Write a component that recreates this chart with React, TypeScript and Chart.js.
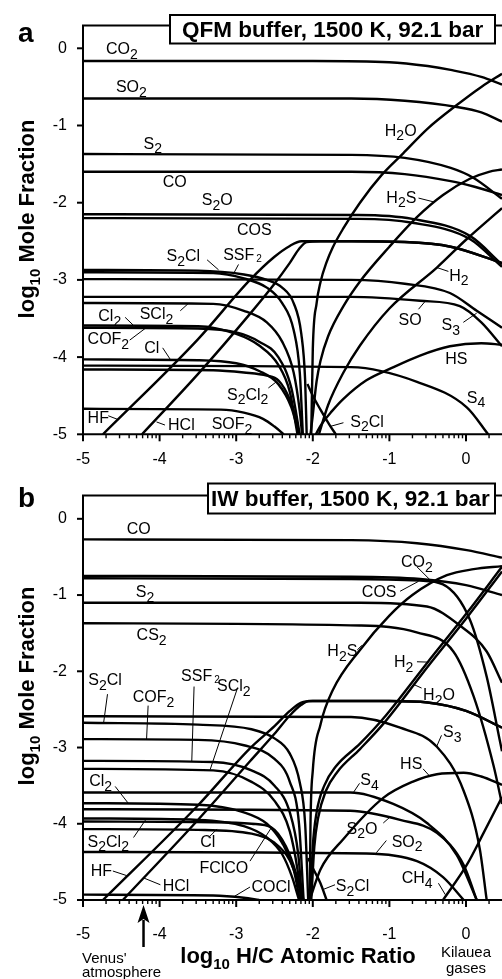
import React, { useEffect, useRef } from 'react';
import { Chart, registerables } from 'chart.js';

Chart.register(...registerables);

type P = [number, number];
type Lbl = { t: string; x: number; y: number; l?: [number, number, number, number]; small?: boolean };

const FONT = '"Liberation Sans", Arial, Helvetica, sans-serif';

// ---------- axes ----------
const X_TICKS = [-5, -4, -3, -2, -1, 0];
const X_TICK_LABELS = ['-5', '-4', '-3', '-2', '-1', '0'];
const Y_TICKS = [-5, -4, -3, -2, -1, 0];
const Y_TICK_LABELS = ['-5', '-4', '-3', '-2', '-1', '0'];
const MINOR_MULT = [2, 3, 4, 5, 6, 7, 8, 9];
const X_MIN = -5;
const X_MAX = 0.47;
const Y_MIN = -5;

// ---------- panel a : QFM buffer ----------
const A_CO2: P[] = [[-5, -0.165], [-2, -0.165], [-1, -0.18], [-0.5, -0.23], [-0.2, -0.28], [0.2, -0.37], [0.47, -0.47]];
const A_SO2: P[] = [[-5, -0.65], [-1.5, -0.65], [-0.8, -0.68], [-0.12, -0.76], [0.2, -0.83], [0.47, -0.95]];
const A_S2: P[] = [[-5, -1.37], [-1.5, -1.38], [-0.8, -1.42], [-0.2, -1.55], [0.1, -1.68], [0.47, -1.95]];
const A_CO: P[] = [[-5, -1.6], [-1.5, -1.6], [-0.8, -1.63], [-0.2, -1.72], [0.1, -1.79], [0.47, -1.9]];
const A_S2O: P[] = [[-5, -2.15], [-1.4, -2.16], [-0.7, -2.21], [0.05, -2.43], [0.47, -2.8]];
const A_COS: P[] = [[-5, -2.2], [-1.4, -2.21], [-0.7, -2.26], [0.05, -2.47], [0.47, -2.83]];
const A_HF: P[] = [[-4.74, -5], [-3.5, -3.77], [-2.82, -3.0], [-2.5, -2.7], [-2.3, -2.56], [-2.15, -2.5], [-1.5, -2.5], [-0.8, -2.51], [-0.2, -2.57], [0.47, -2.78]];
const A_HCl: P[] = [[-4.23, -5], [-3.5, -4.22], [-2.82, -3.44], [-2.5, -3.05], [-2.3, -2.78], [-2.18, -2.6], [-2.08, -2.51], [-1.9, -2.5], [-1.5, -2.5], [-0.8, -2.51], [-0.2, -2.57], [0.47, -2.78]];
const A_S2Cl: P[] = [[-5, -2.87], [-3.5, -2.88], [-2.9, -2.93], [-2.6, -3.0], [-2.4, -3.1], [-2.25, -3.3], [-2.15, -3.7], [-2.1, -4.3], [-2.08, -5]];
const A_SSF2: P[] = [[-5, -2.9], [-3.3, -2.91], [-2.9, -2.98], [-2.6, -3.1], [-2.4, -3.3], [-2.25, -3.65], [-2.17, -4.2], [-2.13, -5]];
const A_S3: P[] = [[-5, -2.99], [-1.5, -3.0], [-0.8, -3.05], [-0.21, -3.17], [0.14, -3.4], [0.47, -3.62]];
const A_SO: P[] = [[-5, -3.22], [-1.5, -3.22], [-0.6, -3.27], [-0.08, -3.34], [0.2, -3.55], [0.47, -3.86]];
const A_SCl2: P[] = [[-5, -3.3], [-3.3, -3.31], [-2.9, -3.4], [-2.6, -3.55], [-2.4, -3.8], [-2.25, -4.2], [-2.17, -4.7], [-2.14, -5]];
const A_Cl2: P[] = [[-5, -3.59], [-3.5, -3.6], [-3.0, -3.7], [-2.7, -3.85], [-2.45, -4.1], [-2.3, -4.45], [-2.2, -5]];
const A_COF2: P[] = [[-5, -3.62], [-3.5, -3.63], [-3.0, -3.68], [-2.7, -3.8], [-2.45, -4.0], [-2.28, -4.4], [-2.17, -5]];
const A_Cl: P[] = [[-5, -4.03], [-3.5, -4.04], [-3.0, -4.08], [-2.7, -4.18], [-2.45, -4.35], [-2.28, -4.65], [-2.18, -5]];
const A_S4: P[] = [[-5, -4.11], [-1.5, -4.13], [-0.64, -4.32], [0.01, -4.65], [0.29, -5]];
const A_S2Cl2: P[] = [[-5, -4.16], [-3.3, -4.17], [-2.9, -4.2], [-2.6, -4.24], [-2.45, -4.3], [-2.3, -4.55], [-2.22, -4.8], [-2.18, -5]];
const A_SOF2: P[] = [[-5, -4.67], [-3.2, -4.68], [-2.9, -4.72], [-2.65, -4.8], [-2.5, -4.9], [-2.38, -5]];
const A_H2O: P[] = [[-2.02, -5], [-2.0, -3.9], [-1.95, -3.3], [-1.9, -3.03], [-1.82, -2.77], [-1.74, -2.58], [-1.6, -2.33], [-1.384, -2.0], [-1.1, -1.64], [-0.82, -1.36], [-0.5, -1.04], [-0.12, -0.735], [0.2, -0.5], [0.47, -0.33]];
const A_H2S: P[] = [[-2.03, -5], [-2.0, -4.75], [-1.95, -4.31], [-1.9, -4.05], [-1.8, -3.73], [-1.6, -3.34], [-1.384, -3.02], [-1.0, -2.57], [-0.644, -2.19], [-0.3, -1.9], [0.05, -1.69], [0.3, -1.6], [0.47, -1.57]];
const A_H2: P[] = [[-1.92, -5], [-1.8, -4.62], [-1.6, -4.2], [-1.384, -3.85], [-1, -3.37], [-0.38, -2.84], [0, -2.48], [0.47, -2.07]];
const A_HS: P[] = [[-1.96, -5], [-1.9, -4.89], [-1.75, -4.7], [-1.6, -4.54], [-1.3, -4.3], [-0.99, -4.15], [-0.6, -3.98], [-0.21, -3.86], [0.2, -3.82], [0.47, -3.84]];
const A_S2Cl_HI: P[] = [[-2.07, -4.35], [-2.0, -4.5], [-1.9, -4.68], [-1.78, -4.88], [-1.7, -5]];

const A_SERIES: [string, P[]][] = [
  ['CO2', A_CO2], ['SO2', A_SO2], ['S2', A_S2], ['CO', A_CO], ['S2O', A_S2O], ['COS', A_COS],
  ['HF', A_HF], ['HCl', A_HCl], ['S2Cl', A_S2Cl], ['SSF2', A_SSF2], ['S3', A_S3], ['SO', A_SO],
  ['SCl2', A_SCl2], ['Cl2', A_Cl2], ['COF2', A_COF2], ['Cl', A_Cl], ['S4', A_S4], ['S2Cl2', A_S2Cl2],
  ['SOF2', A_SOF2], ['H2O', A_H2O], ['H2S', A_H2S], ['H2', A_H2], ['HS', A_HS], ['S2Cl (high H)', A_S2Cl_HI],
];

const A_LABELS: Lbl[] = [
  { t: 'CO2', x: -4.7, y: -0.077 },
  { t: 'SO2', x: -4.57, y: -0.57 },
  { t: 'S2', x: -4.21, y: -1.3 },
  { t: 'CO', x: -3.96, y: -1.8 },
  { t: 'S2O', x: -3.45, y: -2.03 },
  { t: 'COS', x: -2.99, y: -2.42 },
  { t: 'H2O', x: -1.06, y: -1.13 },
  { t: 'H2S', x: -1.04, y: -2.0, l: [-0.62, -1.94, -0.42, -1.99] },
  { t: 'S2Cl', x: -3.91, y: -2.76, l: [-3.38, -2.74, -3.23, -2.87] },
  { t: 'SSF2', x: -3.17, y: -2.74, l: [-2.97, -2.8, -3.04, -2.93], small: true },
  { t: 'Cl2', x: -4.8, y: -3.53, l: [-4.45, -3.485, -4.34, -3.59] },
  { t: 'SCl2', x: -4.26, y: -3.51, l: [-3.73, -3.4, -3.63, -3.31] },
  { t: 'COF2', x: -4.94, y: -3.83, l: [-4.39, -3.78, -4.19, -3.63] },
  { t: 'Cl', x: -4.2, y: -3.95, l: [-3.96, -3.88, -3.86, -4.03] },
  { t: 'S2Cl2', x: -3.12, y: -4.55, l: [-2.58, -4.4, -2.45, -4.3] },
  { t: 'HF', x: -4.94, y: -4.86, l: [-4.67, -4.76, -4.54, -4.81] },
  { t: 'HCl', x: -3.89, y: -4.94, l: [-3.93, -4.88, -4.04, -4.84] },
  { t: 'SOF2', x: -3.32, y: -4.93 },
  { t: 'S2Cl', x: -1.51, y: -4.9, l: [-1.6, -4.85, -1.78, -4.9] },
  { t: 'H2', x: -0.22, y: -3.01, l: [-0.23, -2.89, -0.38, -2.84] },
  { t: 'SO', x: -0.88, y: -3.59, l: [-0.62, -3.38, -0.535, -3.28] },
  { t: 'S3', x: -0.32, y: -3.65, l: [-0.035, -3.55, 0.14, -3.43] },
  { t: 'HS', x: -0.27, y: -4.09 },
  { t: 'S4', x: 0.01, y: -4.59 },
];

// ---------- panel b : IW buffer ----------
const B_CO: P[] = [[-5, -0.27], [-1.5, -0.28], [-0.64, -0.32], [0.01, -0.41], [0.47, -0.51]];
const B_CO2: P[] = [[-5, -0.75], [-1.5, -0.76], [-0.6, -0.79], [0, -0.87], [0.47, -1.0]];
const B_COS: P[] = [[-5, -0.78], [-1.5, -0.79], [-0.6, -0.81], [-0.3, -0.86], [0.05, -1.32], [0.27, -2.07], [0.44, -2.9], [0.47, -3.05]];
const B_S2: P[] = [[-5, -1.1], [-1.384, -1.1], [-0.51, -1.15], [-0.08, -1.4], [0.27, -1.74], [0.47, -2.15]];
const B_CS2: P[] = [[-5, -1.37], [-1.384, -1.4], [-0.644, -1.49], [-0.165, -1.74], [0.1, -2.33], [0.36, -3.24], [0.47, -3.74]];
const B_S3: P[] = [[-5, -2.59], [-1.5, -2.6], [-0.86, -2.74], [-0.38, -2.99], [-0.03, -3.57], [0.18, -4.33], [0.27, -5]];
const B_S2Cl: P[] = [[-5, -2.675], [-3.5, -2.7], [-2.8, -2.76], [-2.5, -2.88], [-2.3, -3.08], [-2.17, -3.46], [-2.1, -4.0], [-2.06, -5]];
const B_COF2: P[] = [[-5, -2.89], [-3.5, -2.9], [-2.9, -2.97], [-2.5, -3.15], [-2.3, -3.45], [-2.18, -4.0], [-2.12, -5]];
const B_SSF2: P[] = [[-5, -3.175], [-3.3, -3.19], [-2.8, -3.3], [-2.5, -3.5], [-2.3, -3.85], [-2.19, -4.4], [-2.14, -5]];
const B_SCl2: P[] = [[-5, -3.28], [-3.3, -3.3], [-2.8, -3.45], [-2.5, -3.7], [-2.3, -4.1], [-2.2, -4.6], [-2.15, -5]];
const B_S4: P[] = [[-5, -3.59], [-1.51, -3.59], [-0.95, -3.74], [-0.51, -3.99], [-0.12, -4.41], [0.14, -5]];
const B_Cl2: P[] = [[-5, -3.73], [-3.5, -3.75], [-2.9, -3.85], [-2.6, -4.0], [-2.4, -4.25], [-2.25, -4.6], [-2.17, -5]];
const B_S2O: P[] = [[-5, -3.81], [-1.51, -3.83], [-0.86, -3.95], [-0.38, -4.12], [-0.03, -4.54], [0.14, -5]];
const B_S2Cl2: P[] = [[-5, -3.93], [-3.5, -3.95], [-2.9, -4.03], [-2.6, -4.18], [-2.4, -4.4], [-2.27, -4.7], [-2.18, -5]];
const B_FClCO: P[] = [[-5, -3.97], [-3.3, -3.98], [-2.8, -4.0], [-2.54, -4.05], [-2.35, -4.3], [-2.22, -4.65], [-2.14, -5]];
const B_Cl: P[] = [[-5, -4.07], [-3.5, -4.08], [-2.8, -4.13], [-2.5, -4.25], [-2.3, -4.48], [-2.18, -4.8], [-2.12, -5]];
const B_SO2: P[] = [[-5, -4.37], [-1.3, -4.39], [-0.64, -4.49], [-0.3, -4.7], [-0.03, -5]];
const B_COCl: P[] = [[-5, -4.93], [-3.3, -4.94], [-2.9, -4.97], [-2.7, -5]];
const B_HF: P[] = [[-4.74, -5], [-3.5, -3.76], [-2.82, -3.01], [-2.5, -2.72], [-2.3, -2.52], [-2.15, -2.41], [-2.0, -2.39], [-1, -2.39], [-0.5, -2.41], [0, -2.52], [0.47, -2.74]];
const B_HCl: P[] = [[-4.48, -5], [-3.5, -3.95], [-2.82, -3.18], [-2.5, -2.82], [-2.3, -2.58], [-2.15, -2.44], [-2.05, -2.39], [-1, -2.39], [-0.5, -2.41], [0, -2.52], [0.47, -2.74]];
const B_H2: P[] = [[-2.03, -5], [-2.0, -4.3], [-1.95, -3.85], [-1.85, -3.5], [-1.7, -3.25], [-1.384, -2.95], [-1.08, -2.62], [-0.5, -1.88], [0, -1.25], [0.47, -0.63]];
const B_H2O: P[] = [[-2.02, -5], [-1.98, -4.3], [-1.93, -3.92], [-1.83, -3.57], [-1.68, -3.32], [-1.384, -3.02], [-1.08, -2.69], [-0.5, -1.94], [0, -1.31], [0.47, -0.69]];
const B_H2S: P[] = [[-2.04, -5], [-2.03, -4.0], [-2.0, -3.3], [-1.9, -2.7], [-1.74, -2.25], [-1.384, -1.72], [-1.0, -1.27], [-0.7, -1.0], [-0.25, -0.74], [0.1, -0.66], [0.47, -0.62]];
const B_HS: P[] = [[-2.04, -5], [-1.9, -4.6], [-1.6, -4.2], [-1.08, -3.66], [-0.7, -3.45], [-0.38, -3.35], [-0.03, -3.33], [0.2, -3.38], [0.47, -3.49]];
const B_CH4: P[] = [[-0.3, -5], [0.01, -4.54], [0.23, -4.12], [0.47, -3.65]];
const B_S2Cl_HI: P[] = [[-2.06, -4.45], [-2.0, -4.58], [-1.9, -4.78], [-1.82, -5]];

const B_SERIES: [string, P[]][] = [
  ['CO', B_CO], ['CO2', B_CO2], ['COS', B_COS], ['S2', B_S2], ['CS2', B_CS2], ['S3', B_S3],
  ['S2Cl', B_S2Cl], ['COF2', B_COF2], ['SSF2', B_SSF2], ['SCl2', B_SCl2], ['S4', B_S4], ['Cl2', B_Cl2],
  ['S2O', B_S2O], ['S2Cl2', B_S2Cl2], ['FClCO', B_FClCO], ['Cl', B_Cl], ['SO2', B_SO2], ['COCl', B_COCl],
  ['HF', B_HF], ['HCl', B_HCl], ['H2', B_H2], ['H2O', B_H2O], ['H2S', B_H2S], ['HS', B_HS], ['CH4', B_CH4],
  ['S2Cl (high H)', B_S2Cl_HI],
];

const B_LABELS: Lbl[] = [
  { t: 'CO', x: -4.43, y: -0.196 },
  { t: 'S2', x: -4.31, y: -1.03 },
  { t: 'CS2', x: -4.3, y: -1.59 },
  { t: 'CO2', x: -0.85, y: -0.63, l: [-0.64, -0.63, -0.47, -0.8] },
  { t: 'COS', x: -1.36, y: -1.03, l: [-0.86, -0.95, -0.62, -0.82] },
  { t: 'H2S', x: -1.81, y: -1.8, l: [-1.42, -1.72, -1.36, -1.66] },
  { t: 'H2', x: -0.94, y: -1.95, l: [-0.64, -1.875, -0.49, -1.88] },
  { t: 'H2O', x: -0.56, y: -2.38, l: [-0.58, -2.22, -0.69, -2.17] },
  { t: 'S2Cl', x: -4.93, y: -2.18, l: [-4.68, -2.3, -4.73, -2.67] },
  { t: 'COF2', x: -4.35, y: -2.4, l: [-4.15, -2.45, -4.17, -2.89] },
  { t: 'SSF2', x: -3.72, y: -2.13, l: [-3.55, -2.2, -3.58, -3.18], small: true },
  { t: 'SCl2', x: -3.25, y: -2.26, l: [-2.99, -2.24, -3.34, -3.29] },
  { t: 'Cl2', x: -4.92, y: -3.51, l: [-4.58, -3.51, -4.41, -3.73] },
  { t: 'S2Cl2', x: -4.94, y: -4.3, l: [-4.34, -4.18, -4.17, -3.93] },
  { t: 'Cl', x: -3.47, y: -4.3, l: [-3.36, -4.18, -3.25, -4.07] },
  { t: 'FClCO', x: -3.48, y: -4.65, l: [-2.82, -4.49, -2.54, -4.05] },
  { t: 'HF', x: -4.9, y: -4.68, l: [-4.61, -4.62, -4.43, -4.68] },
  { t: 'HCl', x: -3.96, y: -4.88, l: [-3.99, -4.8, -4.21, -4.71] },
  { t: 'COCl', x: -2.8, y: -4.9, l: [-2.82, -4.83, -3.02, -4.95] },
  { t: 'S2Cl', x: -1.7, y: -4.88, l: [-1.71, -4.8, -1.86, -4.86] },
  { t: 'S4', x: -1.38, y: -3.49, l: [-1.39, -3.47, -1.47, -3.59] },
  { t: 'S2O', x: -1.56, y: -4.13, l: [-1.08, -3.99, -0.99, -3.91] },
  { t: 'SO2', x: -0.97, y: -4.3, l: [-1.04, -4.22, -1.17, -4.38] },
  { t: 'CH4', x: -0.84, y: -4.78, l: [-0.36, -4.78, -0.27, -4.93] },
  { t: 'HS', x: -0.86, y: -3.28, l: [-0.56, -3.28, -0.47, -3.38] },
  { t: 'S3', x: -0.3, y: -2.86, l: [-0.32, -2.84, -0.38, -2.98] },
];

// ---------- panel layout (pixels) ----------
type Layout = {
  h: number; padTop: number; xAxisH: number; yMax: number; tickPadX: number;
  letter: string; letterY: number; box: [number, number, number, number];
  boxText: string; boxTextX: number; boxTextY: number; yTitleY: number; notes: boolean;
  series: [string, P[]][]; labels: Lbl[];
};

const PANEL_A: Layout = {
  h: 470, padTop: 11, xAxisH: 35.7, yMax: 0.294, tickPadX: 16,
  letter: 'a', letterY: 42, box: [170, 15, 495, 43.5],
  boxText: 'QFM buffer, 1500 K, 92.1 bar', boxTextX: 182, boxTextY: 37, yTitleY: 219, notes: false,
  series: A_SERIES, labels: A_LABELS,
};
const PANEL_B: Layout = {
  h: 509, padTop: 6.7, xAxisH: 79, yMax: 0.3045, tickPadX: 25,
  letter: 'b', letterY: 37, box: [208, 13.5, 495, 43.5],
  boxText: 'IW buffer, 1500 K, 92.1 bar', boxTextX: 211, boxTextY: 36, yTitleY: 216, notes: true,
  series: B_SERIES, labels: B_LABELS,
};

function chem(ctx: CanvasRenderingContext2D, text: string, x: number, y: number, size: number, small?: boolean) {
  const parts = text.match(/[0-9]+|[^0-9]+/g) || [];
  let cx = x;
  for (const p of parts) {
    const sub = /^[0-9]/.test(p);
    const subSize = small ? Math.round(size * 0.62) : Math.round(size * 0.85);
    ctx.font = `${sub ? subSize : size}px ${FONT}`;
    ctx.fillText(p, cx + (sub && small ? 2 : 0), sub ? y + size * (small ? 0.12 : 0.3) : y);
    cx += ctx.measureText(p).width + (sub && small ? 2 : 0);
  }
}

function segs(ctx: CanvasRenderingContext2D, items: [string, boolean][], x: number, y: number, size: number, bold: boolean) {
  const f = (sub: boolean) => `${bold ? 'bold ' : ''}${sub ? Math.round(size * 0.68) : size}px ${FONT}`;
  const widths = items.map(([s, sub]) => { ctx.font = f(sub); return ctx.measureText(s).width; });
  const total = widths.reduce((a, b) => a + b, 0);
  let cx = x - total / 2;
  items.forEach(([s, sub], i) => {
    ctx.font = f(sub);
    ctx.fillText(s, cx, sub ? y + size * 0.28 : y);
    cx += widths[i];
  });
}

function makeDecor(cfg: Layout) {
  return {
    id: 'decor',
    afterDatasetsDraw(chart: any) {
      const ctx: CanvasRenderingContext2D = chart.ctx;
      const xs = chart.scales.x;
      const ys = chart.scales.y;
      const { left, right, top, bottom } = chart.chartArea;
      ctx.save();
      ctx.fillStyle = '#000';
      ctx.strokeStyle = '#000';
      ctx.textAlign = 'left';
      ctx.textBaseline = 'alphabetic';
      // species labels + leaders
      for (const L of cfg.labels) {
        if (L.l) {
          ctx.lineWidth = 1;
          ctx.beginPath();
          ctx.moveTo(xs.getPixelForValue(L.l[0]), ys.getPixelForValue(L.l[1]));
          ctx.lineTo(xs.getPixelForValue(L.l[2]), ys.getPixelForValue(L.l[3]));
          ctx.stroke();
        }
        chem(ctx, L.t, xs.getPixelForValue(L.x), ys.getPixelForValue(L.y), 16, L.small);
      }
      // frame
      ctx.lineWidth = 2;
      ctx.beginPath();
      ctx.moveTo(right + 2, top);
      ctx.lineTo(left, top);
      ctx.lineTo(left, bottom);
      ctx.lineTo(right + 2, bottom);
      ctx.stroke();
      // y ticks
      for (const v of Y_TICKS) {
        const py = ys.getPixelForValue(v);
        ctx.beginPath();
        ctx.moveTo(left - 6, py);
        ctx.lineTo(left, py);
        ctx.stroke();
      }
      // x ticks (major + minor)
      for (const v of X_TICKS) {
        const px = xs.getPixelForValue(v);
        ctx.lineWidth = 2;
        ctx.beginPath();
        ctx.moveTo(px, bottom);
        ctx.lineTo(px, bottom + 7);
        ctx.stroke();
        ctx.lineWidth = 1.4;
        for (const m of MINOR_MULT) {
          const mv = v + Math.log10(m);
          if (mv > X_MAX) continue;
          const mx = xs.getPixelForValue(mv);
          ctx.beginPath();
          ctx.moveTo(mx, bottom);
          ctx.lineTo(mx, bottom + 4);
          ctx.stroke();
        }
      }
      // condition box
      const [bx0, by0, bx1, by1] = cfg.box;
      ctx.fillStyle = '#fff';
      ctx.fillRect(bx0, by0, bx1 - bx0, by1 - by0);
      ctx.lineWidth = 2;
      ctx.strokeRect(bx0, by0, bx1 - bx0, by1 - by0);
      ctx.fillStyle = '#000';
      ctx.font = `bold 22.5px ${FONT}`;
      ctx.fillText(cfg.boxText, cfg.boxTextX, cfg.boxTextY);
      // panel letter
      ctx.font = `bold 28px ${FONT}`;
      ctx.fillText(cfg.letter, 18, cfg.letterY);
      // y title
      ctx.save();
      ctx.translate(34, cfg.yTitleY);
      ctx.rotate(-Math.PI / 2);
      segs(ctx, [['log', false], ['10', true], [' Mole Fraction', false]], 0, 0, 22, true);
      ctx.restore();
      if (cfg.notes) {
        // x title
        segs(ctx, [['log', false], ['10', true], [' H/C Atomic Ratio', false]], 298, 493, 22, true);
        // Venus arrow
        const vx = xs.getPixelForValue(-4.21);
        ctx.lineWidth = 2.5;
        ctx.beginPath();
        ctx.moveTo(vx, bottom + 47);
        ctx.lineTo(vx, bottom + 20);
        ctx.stroke();
        ctx.beginPath();
        ctx.moveTo(vx, bottom + 5);
        ctx.lineTo(vx - 6, bottom + 23);
        ctx.lineTo(vx, bottom + 19);
        ctx.lineTo(vx + 6, bottom + 23);
        ctx.closePath();
        ctx.fill();
        ctx.font = `15px ${FONT}`;
        ctx.fillText("Venus'", 82, 493);
        ctx.fillText('atmosphere', 82, 507);
        ctx.textAlign = 'center';
        ctx.fillText('Kilauea', 466, 487);
        ctx.fillText('gases', 466, 503);
      }
      ctx.restore();
    },
  };
}

function Panel({ cfg, top }: { cfg: Layout; top: number }) {
  const ref = useRef<HTMLCanvasElement | null>(null);
  useEffect(() => {
    const canvas = ref.current;
    if (!canvas) return;
    const chart = new Chart(canvas, {
      type: 'line',
      data: {
        datasets: cfg.series.map(([name, pts]) => ({
          label: name,
          data: pts.map(([x, y]) => ({ x, y })),
          borderColor: '#000',
          backgroundColor: '#000',
          borderWidth: 2.4,
          pointRadius: 0,
          fill: false,
          cubicInterpolationMode: 'monotone' as const,
          clip: 0,
        })),
      },
      options: {
        animation: false,
        responsive: false,
        events: [],
        layout: { padding: { top: cfg.padTop, left: 0, right: 0, bottom: 0 } },
        plugins: { legend: { display: false }, tooltip: { enabled: false } },
        scales: {
          x: {
            type: 'linear',
            min: X_MIN,
            max: X_MAX,
            grid: { display: false, drawTicks: false },
            border: { display: false },
            ticks: {
              color: '#000',
              font: { size: 16, family: FONT },
              padding: cfg.tickPadX,
              maxRotation: 0,
              autoSkip: false,
              callback: (_v: any, i: number) => X_TICK_LABELS[i],
            },
            afterBuildTicks: (s: any) => { s.ticks = X_TICKS.map((v) => ({ value: v })); },
            afterFit: (s: any) => { s.height = cfg.xAxisH; },
          },
          y: {
            type: 'linear',
            min: Y_MIN,
            max: cfg.yMax,
            grid: { display: false, drawTicks: false },
            border: { display: false },
            ticks: {
              color: '#000',
              font: { size: 16, family: FONT },
              padding: 16,
              callback: (_v: any, i: number) => Y_TICK_LABELS[i],
            },
            afterBuildTicks: (s: any) => { s.ticks = Y_TICKS.map((v) => ({ value: v })); },
            afterFit: (s: any) => { s.width = 83; },
          },
        },
      },
      plugins: [makeDecor(cfg)],
    } as any);
    return () => chart.destroy();
  }, [cfg]);
  return (
    <canvas
      ref={ref}
      width={502}
      height={cfg.h}
      style={{ position: 'absolute', left: 0, top, width: 502, height: cfg.h, display: 'block' }}
    />
  );
}

export default function App() {
  return (
    <div style={{ position: 'absolute', left: 0, top: 0, width: 502, height: 979, overflow: 'hidden', background: '#fff' }}>
      <Panel cfg={PANEL_A} top={0} />
      <Panel cfg={PANEL_B} top={470} />
    </div>
  );
}
